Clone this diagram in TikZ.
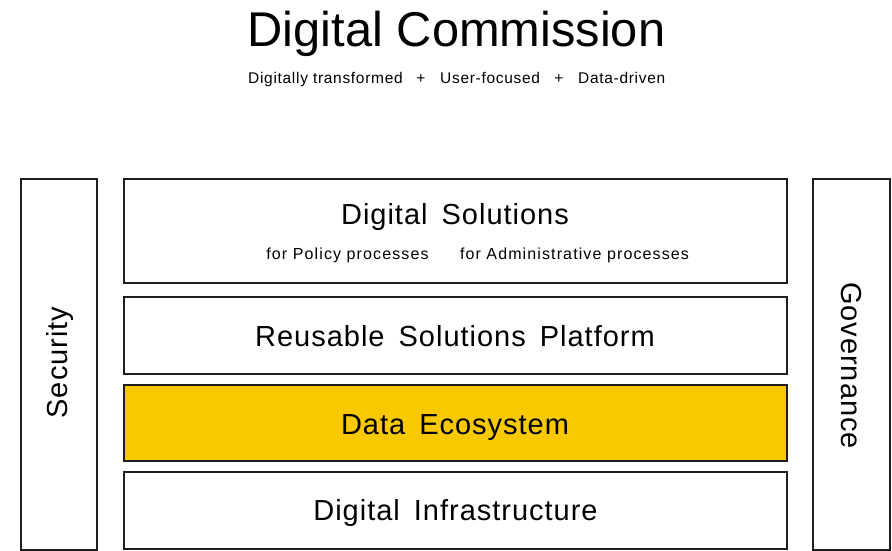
\documentclass[tikz,border=0pt]{standalone}
\usepackage{fontspec}
\setmainfont{Liberation Sans}
\newfontfamily\bigls[LetterSpace=3.4]{Liberation Sans}
\newfontfamily\smallls[LetterSpace=7]{Liberation Sans}
\newfontfamily\subls[LetterSpace=4.5]{Liberation Sans}
\definecolor{dataYellow}{RGB}{248,200,0}
\definecolor{lineGray}{RGB}{30,30,30}
\begin{document}
\begin{tikzpicture}[x=1pt,y=-1pt,
  layer/.style={draw=lineGray,line width=1.3pt,fill=white,rectangle,inner sep=0pt,minimum width=663pt},
  pillar/.style={draw=lineGray,line width=1.3pt,fill=white,rectangle,inner sep=0pt,minimum width=76pt,minimum height=371pt},
  bigtxt/.style={font=\bigls\fontsize{29}{34}\selectfont,inner sep=0pt,anchor=base},
  smalltxt/.style={font=\smallls\fontsize{16}{19}\selectfont,inner sep=0pt,anchor=base},
  subtxt/.style={font=\subls\fontsize{15.5}{18}\selectfont,inner sep=0pt,anchor=base west}]
\useasboundingbox (0,0) rectangle (892,551);
\fill[white] (0,0) rectangle (892,551);
% title
\node[font=\fontsize{48.8}{56}\selectfont,inner sep=0pt,anchor=base] (title) at (456.5,47) {Digital Commission};
\node[subtxt] (sub1) at (248,84) {Digitally transformed};
\node[subtxt,anchor=base] (plus1) at (421,84) {+};
\node[subtxt] (sub2) at (440,84) {User-focused};
\node[subtxt,anchor=base] (plus2) at (559,84) {+};
\node[subtxt] (sub3) at (578,84) {Data-driven};
% pillars
\node[pillar] (sec) at (59,364.5) {};
\node[pillar,minimum width=77pt] (gov) at (851.5,364.5) {};
\node[font=\bigls\fontsize{29}{34}\selectfont,rotate=90,inner sep=0pt] (sectxt) at (60,362.5) {Security};
\node[font=\bigls\fontsize{29}{34}\selectfont,rotate=-90,inner sep=0pt] (govtxt) at (851,365.5) {Governance};
% layers
\node[layer,minimum height=104pt] (ds) at (455.5,231) {};
\node[layer,minimum height=77pt] (rsp) at (455.5,335.5) {};
\node[layer,minimum height=76pt,fill=dataYellow] (de) at (455.5,423) {};
\node[layer,minimum height=77pt] (di) at (455.5,510.5) {};
% texts
\node[bigtxt] (dstxt) at (455,224) {Digital\hspace{5pt} Solutions};
\node[smalltxt] (pol) at (347.5,259) {for Policy processes};
\node[smalltxt] (adm) at (574.5,259) {for Administrative processes};
\node[bigtxt] (rsptxt) at (455,346.5) {Reusable\hspace{5pt} Solutions\hspace{5pt} Platform};
\node[bigtxt] (detxt) at (455,434) {Data\hspace{5pt} Ecosystem};
\node[bigtxt] (ditxt) at (455.5,520) {Digital\hspace{5pt} Infrastructure};
\end{tikzpicture}
\end{document}
